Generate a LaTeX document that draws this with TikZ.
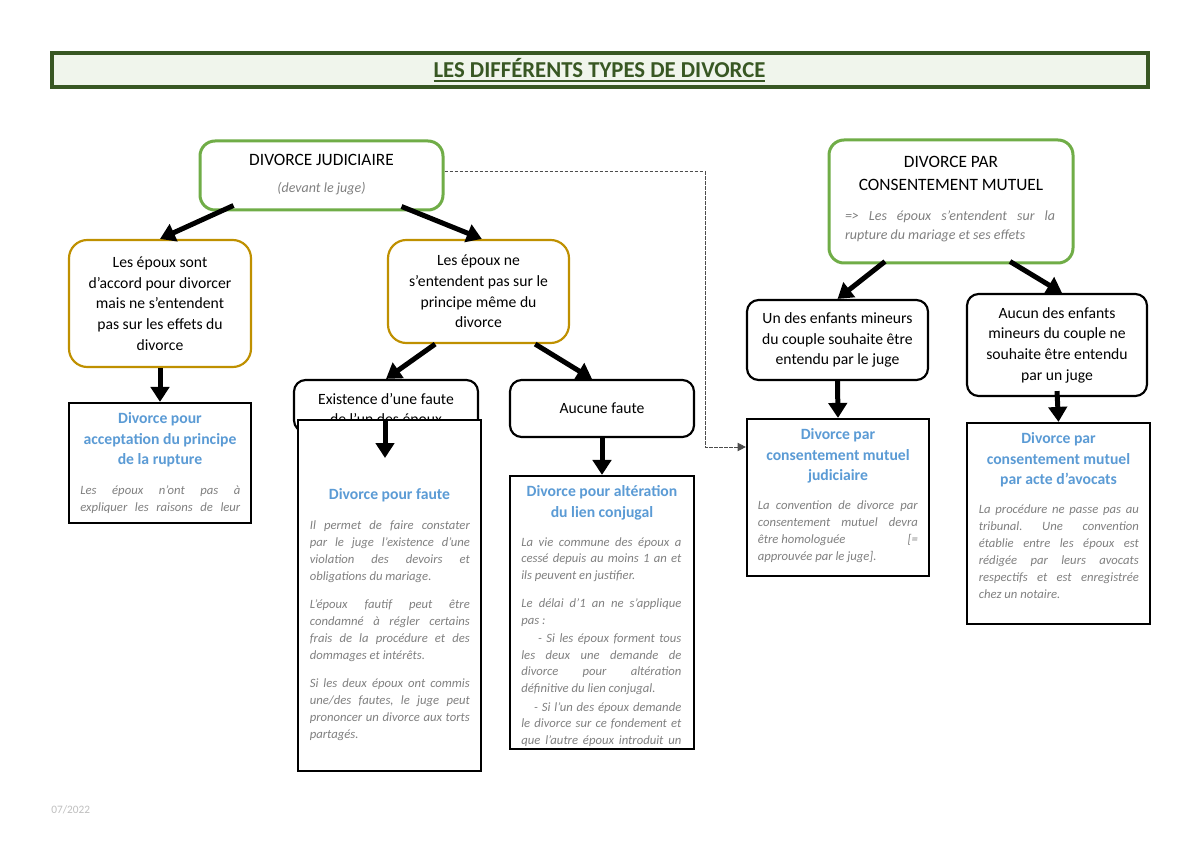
\documentclass[tikz,border=0pt]{standalone}
\usepackage{fontspec}
\setmainfont{Carlito}
\usetikzlibrary{arrows.meta}
\definecolor{cgreen}{HTML}{70AD47}
\definecolor{cgold}{HTML}{BF9000}
\definecolor{cdkgreen}{HTML}{385723}
\definecolor{cfill}{HTML}{F0F5EC}
\definecolor{cblue}{HTML}{5B9BD5}
\definecolor{cgray}{HTML}{808080}
\definecolor{cfoot}{HTML}{BFBFBF}
\newcommand\natsp{\frenchspacing\spaceskip=\fontdimen2\font\xspaceskip=0pt\relax}
\newcommand\jl[1]{\makebox[\linewidth][s]{\frenchspacing\spaceskip=\fontdimen2\font plus 1fil\xspaceskip=0pt\relax #1}}
\newcommand\myul[1]{\setbox0\hbox{#1}\rlap{\rule[-2.6pt]{\wd0}{1.3pt}}\box0}
\newcommand\blacktext{\fontsize{9.4}{12.4}\selectfont}
\begin{document}
\begin{tikzpicture}[x=0.6pt,y=-0.6pt,
 every node/.style={inner sep=0pt},
 greenbox/.style={draw=cgreen,line width=1.8pt,rounded corners=9pt,fill=white},
 goldbox/.style={draw=cgold,line width=1.3pt,rounded corners=11pt,fill=white,align=center,font=\blacktext},
 roundbox/.style={draw=black,line width=1.3pt,rounded corners=7pt,fill=white,align=center,font=\blacktext},
 rectbox/.style={draw=black,line width=1.3pt,fill=white},
 bluetitle/.style={text=cblue,align=center,font=\bfseries\fontsize{9.4}{12.4}\selectfont},
 bodytext/.style={text=cgray,text width=96pt,align=left,anchor=north west,font=\itshape\fontsize{7.6}{10.2}\selectfont},
 headtext/.style={align=center,font=\fontsize{10.4}{13.8}\selectfont},
 bigarrow/.style={line width=3pt,-{Triangle[length=9pt,width=11pt]}},
 dashconn/.style={draw=black!70,line width=0.6pt,dash pattern=on 2pt off 1pt,-{Triangle[length=5pt,width=5pt]}}
]
\useasboundingbox (0,0) rectangle (1200,849);
\fill[white] (0,0) rectangle (1200,849);

% title
\node[draw=cdkgreen,line width=2.4pt,fill=cfill,minimum width=657.6pt,minimum height=20.4pt] (titlebox) at (600,70) {};
\node[text=cdkgreen,font=\bfseries\fontsize{13.65}{16}\selectfont] (titletext) at (599.5,70) {\myul{LES DIFFÉRENTS TYPES DE DIVORCE}};

% judiciaire
\node[greenbox,minimum width=145.8pt,minimum height=41.4pt] (judic) at (321.5,175.5) {};
\node[headtext] (judicT) at (321.5,160) {DIVORCE JUDICIAIRE};
\node[text=cgray,font=\itshape\fontsize{8.4}{11.4}\selectfont] (judicS) at (321.5,189) {(devant le juge)};

% consentement mutuel
\node[greenbox,minimum width=146.4pt,minimum height=73.8pt] (consent) at (951,201.5) {};
\node[headtext] (consentT) at (951,173.5) {DIVORCE PAR\\CONSENTEMENT MUTUEL};
\node[text=cgray,text width=126pt,align=left,font=\itshape\fontsize{8.4}{11.4}\selectfont] (consentS) at (950,226.5) {\natsp\jl{=> Les époux s'entendent sur la}\\rupture du mariage et ses effets};

% gold boxes
\node[goldbox,minimum width=109.2pt,minimum height=76.2pt] (leftgold) at (160,303.5) {Les époux sont\\d'accord pour divorcer\\mais ne s'entendent\\pas sur les effets du\\divorce};
\node[goldbox,minimum width=108.6pt,minimum height=61.8pt] (midgold) at (478.5,291.5) {Les époux ne\\s'entendent pas sur le\\principe même du\\divorce};

% acceptation
\node[rectbox,minimum width=109.2pt,minimum height=72pt] (accept) at (160,463) {};
\node[bluetitle] (acceptT) at (160,440) {Divorce pour\\acceptation du principe\\de la rupture};
\node[bodytext] (acceptB) at (80,485) {\natsp\jl{Les époux n'ont pas à}\\\jl{expliquer les raisons de leur}};

% existence d'une faute
\node[roundbox,minimum width=110.4pt,minimum height=31.2pt] (exist) at (386,406) {};
\node[align=center,font=\blacktext] (existT) at (386,410.4) {Existence d'une faute\\de l'un des époux};

% faute
\node[rectbox,minimum width=109.8pt,minimum height=210.6pt] (faute) at (389.5,595.5) {};
\node[bluetitle] (fauteT) at (389.5,495) {Divorce pour faute};
\node[bodytext] (fauteB) at (309.5,520) {\natsp\jl{Il permet de faire constater}\\\jl{par le juge l'existence d'une}\\\jl{violation des devoirs et}\\obligations du mariage.\\[6.8pt]\jl{L'époux fautif peut être}\\\jl{condamné à régler certains}\\\jl{frais de la procédure et des}\\dommages et intérêts.\\[6.8pt]\jl{Si les deux époux ont commis}\\\jl{une/des fautes, le juge peut}\\\jl{prononcer un divorce aux torts}\\partagés.};

% aucune faute
\node[roundbox,minimum width=110.4pt,minimum height=34.2pt] (aucune) at (602,408.5) {Aucune faute};

% alteration
\node[rectbox,minimum width=110.4pt,minimum height=163.8pt] (alter) at (602,612.5) {};
\node[bluetitle] (alterT) at (602,502.5) {Divorce pour altération\\du lien conjugal};
\node[bodytext,font=\itshape\fontsize{7.6}{9.9}\selectfont] (alterB) at (521,537) {\natsp\jl{La vie commune des époux a}\\\jl{cessé depuis au moins 1 an et}\\ils peuvent en justifier.\\[7.2pt]\jl{Le délai d'1 an ne s'applique}\\pas :\\[1.2pt]\hspace*{10pt}\makebox[\dimexpr\linewidth-10pt][s]{\spaceskip=\fontdimen2\font plus 1fil\relax - Si les époux forment tous}\\\jl{les deux une demande de}\\\jl{divorce pour altération}\\définitive du lien conjugal.\\[1.5pt]\hspace*{7.6pt}\makebox[\dimexpr\linewidth-7.6pt][s]{\spaceskip=\fontdimen2\font plus 1fil\relax - Si l'un des époux demande}\\\jl{le divorce sur ce fondement et}\\\jl{que l'autre époux introduit un}};

% enfants boxes
\node[roundbox,minimum width=108.6pt,minimum height=48pt] (undes) at (837.5,340) {Un des enfants mineurs\\du couple souhaite être\\entendu par le juge};
\node[roundbox,minimum width=108pt,minimum height=61.2pt] (aucun) at (1057,345) {Aucun des enfants\\mineurs du couple ne\\souhaite être entendu\\par un juge};

% cm judiciaire
\node[rectbox,minimum width=109.2pt,minimum height=94.2pt] (cmj) at (838,497.5) {};
\node[bluetitle] (cmjT) at (838,456) {Divorce par\\consentement mutuel\\judiciaire};
\node[bodytext] (cmjB) at (757.5,500.7) {\natsp\jl{La convention de divorce par}\\\jl{consentement mutuel devra}\\\jl{être homologuée\hfill [=}\\approuvée par le juge].};

% cm avocats
\node[rectbox,minimum width=109.8pt,minimum height=120.6pt] (cma) at (1058.5,523.5) {};
\node[bluetitle] (cmaT) at (1058.5,460) {Divorce par\\consentement mutuel\\par acte d'avocats};
\node[bodytext] (cmaB) at (978.5,504.7) {\natsp\jl{La procédure ne passe pas au}\\\jl{tribunal. Une convention}\\\jl{établie entre les époux est}\\\jl{rédigée par leurs avocats}\\\jl{respectifs et est enregistrée}\\chez un notaire.};

% footer
\node[text=cfoot,font=\fontsize{6.8}{8}\selectfont,anchor=west] (foot) at (51,810) {07/2022};

% arrows
\draw[bigarrow] ([xshift=21pt,yshift=3.6pt]judic.south west) -- (leftgold.north);
\draw[bigarrow] ([xshift=-25.8pt,yshift=3pt]judic.south east) -- ([xshift=2pt]midgold.north);
\draw[bigarrow] (leftgold.south) -- (accept.north);
\draw[bigarrow] ([xshift=-26pt]midgold.south) -- (exist.north);
\draw[bigarrow] ([xshift=34pt]midgold.south) -- ([xshift=-6pt]aucune.north);
\coordinate (fauteTip) at (385,458);
\draw[bigarrow] (faute.north -| fauteTip) -- (fauteTip);
\draw[bigarrow] (aucune.south) -- (alter.north);
\draw[bigarrow] ([xshift=-39.6pt,yshift=1.8pt]consent.south) -- (undes.north);
\draw[bigarrow] ([xshift=35.4pt,yshift=1.8pt]consent.south) -- ([xshift=3pt]aucun.north);
\draw[bigarrow] (undes.south) -- (cmj.north);
\draw[bigarrow] ([yshift=3.6pt]aucun.south) -- (cma.north);
\coordinate (dashbend) at (705,447);
\draw[dashconn] ([yshift=2.1pt]judic.east) -| (dashbend) -- (cmj.west |- dashbend);
\end{tikzpicture}
\end{document}
